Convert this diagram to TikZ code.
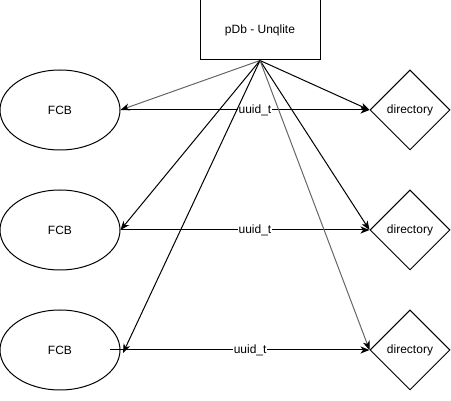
\documentclass[tikz,border=0pt]{standalone}
\usepackage{fontspec}
\setmainfont{Liberation Sans}
\usetikzlibrary{shapes.geometric,arrows.meta}
\begin{document}
\begin{tikzpicture}[x=1pt,y=-1pt,
  every node/.style={font=\fontsize{12}{14}\selectfont},
  box/.style={draw,line width=1pt,minimum width=120pt,minimum height=60pt,inner sep=0pt},
  fcb/.style={draw,ellipse,line width=1pt,minimum width=120pt,minimum height=80pt,inner sep=0pt},
  dir/.style={draw,diamond,line width=1pt,minimum width=80pt,minimum height=80pt,inner sep=0pt},
  conn/.style={line width=1pt,-{Stealth[length=9pt,width=7pt,inset=2.5pt]}},
  grayconn/.style={conn,draw=black!60,-{Stealth[length=9pt,width=7pt,inset=2.5pt,black]}},
  lbl/.style={fill=white,inner sep=1pt,pos=0.54}]
\useasboundingbox (0,0) rectangle (451,401);
\node[box] (pdb) at (260,30) {pDb - Unqlite};
\node[fcb] (fcb1) at (60,110) {FCB};
\node[fcb] (fcb2) at (60,230) {FCB};
\node[fcb] (fcb3) at (60,350) {FCB};
\node[dir] (dir1) at (410,110) {directory};
\node[dir] (dir2) at (410,230) {directory};
\node[dir] (dir3) at (410,350) {directory};
\coordinate (src) at (pdb.south);
\coordinate (s3) at (110,350);
\coordinate (t3) at (123,353);
% FCB to directory
\draw[conn] (fcb1.east) -- node[lbl] {uuid\_t} (dir1.west);
\draw[conn] (fcb2.east) -- node[lbl] {uuid\_t} (dir2.west);
\draw[conn] (s3) -- node[lbl] {uuid\_t} (dir3.west);
% pDb to FCBs
\draw[grayconn] (src) -- (fcb1.east);
\draw[conn] (src) -- (fcb2.east);
\draw[conn] (src) -- (t3);
% pDb to directories
\draw[conn] (src) -- (dir1.west);
\draw[conn] (src) -- (dir2.west);
\draw[grayconn] (src) -- (dir3.west);
\end{tikzpicture}
\end{document}
